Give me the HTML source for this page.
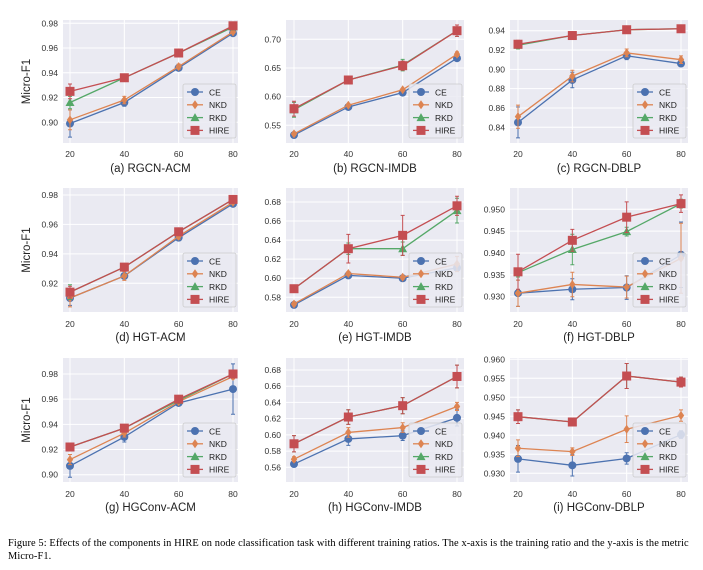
<!DOCTYPE html>
<html><head><meta charset="utf-8">
<style>
html,body{margin:0;padding:0;background:#fff;}
body{width:703px;height:570px;overflow:hidden;position:relative;}
svg{position:absolute;left:0;top:0;}
.cap{position:absolute;left:8px;top:537px;width:694px;overflow:hidden;white-space:nowrap;font-family:"Liberation Serif",serif;font-size:10.4px;letter-spacing:0.1px;line-height:13px;color:#000;}
</style></head><body>
<svg id="chart" width="703" height="535" font-family="Liberation Sans, DejaVu Sans, sans-serif"></svg>
<div class="cap">Figure 5: Effects of the components in HIRE on node classification task with different training ratios. The x-axis is the training ratio and the y-axis is the metric<br>Micro-F1.</div>
<script>
const xCats = [20, 40, 60, 80];
const seriesNames = ["CE", "NKD", "RKD", "HIRE"];
const titles = ["(a) RGCN-ACM","(b) RGCN-IMDB","(c) RGCN-DBLP","(d) HGT-ACM","(e) HGT-IMDB","(f) HGT-DBLP","(g) HGConv-ACM","(h) HGConv-IMDB","(i) HGConv-DBLP"];
const yTicks = [
 [0.90,0.92,0.94,0.96,0.98],[0.55,0.60,0.65,0.70],[0.84,0.86,0.88,0.90,0.92,0.94],
 [0.92,0.94,0.96,0.98],[0.58,0.60,0.62,0.64,0.66,0.68],[0.930,0.935,0.940,0.945,0.950],
 [0.90,0.92,0.94,0.96,0.98],[0.56,0.58,0.60,0.62,0.64,0.66,0.68],[0.930,0.935,0.940,0.945,0.950,0.955,0.960]];
const ceVals = [
 [0.899,0.916,0.944,0.972],[0.533,0.582,0.607,0.667],[0.845,0.889,0.914,0.906],
 [0.910,0.925,0.951,0.974],[0.572,0.603,0.600,0.611],[0.9308,0.9317,0.9321,0.9396],
 [0.907,0.930,0.957,0.968],[0.564,0.595,0.599,0.621],[0.9338,0.9321,0.9339,0.9402]];
const nkdVals = [
 [0.902,0.918,0.945,0.973],[0.535,0.585,0.612,0.674],[0.851,0.893,0.917,0.910],
 [0.910,0.925,0.952,0.975],[0.573,0.605,0.601,0.615],[0.9308,0.9328,0.9322,0.9388],
 [0.912,0.933,0.958,0.978],[0.570,0.603,0.609,0.635],[0.9366,0.9357,0.9416,0.9452]];
const rkdVals = [
 [0.916,0.936,0.956,0.977],[0.577,0.629,0.655,0.715],[0.925,0.935,0.941,0.942],
 [0.914,0.931,0.955,0.977],[0.589,0.631,0.631,0.671],[0.9355,0.9408,0.9449,0.9513],
 [0.922,0.937,0.959,0.980],[0.589,0.622,0.636,0.672],[0.9449,0.9435,0.9556,0.9540]];
const hireVals = [
 [0.925,0.936,0.956,0.978],[0.579,0.629,0.654,0.715],[0.926,0.935,0.941,0.942],
 [0.914,0.931,0.955,0.977],[0.589,0.631,0.645,0.676],[0.9357,0.9429,0.9482,0.9513],
 [0.922,0.937,0.960,0.980],[0.589,0.622,0.636,0.672],[0.9449,0.9435,0.9556,0.9540]];
const ceErr = [
 [0.011,0.003,0.002,0.001],[0.003,0.002,0.002,0.002],[0.016,0.008,0.004,0.002],
 [0.005,0.002,0.002,0.001],[0.002,0.002,0.002,0.003],[0.003,0.0024,0.0027,0.0075],
 [0.009,0.004,0.001,0.020],[0.003,0.008,0.006,0.010],[0.0035,0.0028,0.0015,0.001]];
const nkdErr = [
 [0.008,0.003,0.002,0.001],[0.003,0.002,0.002,0.004],[0.012,0.006,0.004,0.004],
 [0.006,0.003,0.002,0.001],[0.002,0.002,0.002,0.008],[0.003,0.0028,0.0025,0.008],
 [0.004,0.003,0.001,0.002],[0.003,0.006,0.006,0.005],[0.0022,0.001,0.0035,0.0015]];
const rkdErr = [
 [0.005,0.001,0.002,0.001],[0.013,0.003,0.010,0.010],[0.004,0.001,0.001,0.002],
 [0.005,0.002,0.002,0.001],[0.003,0.006,0.007,0.013],[0.001,0.0035,0.001,0.001],
 [0.003,0.002,0.001,0.002],[0.010,0.009,0.010,0.014],[0.0018,0.001,0.0033,0.0013]];
const hireErr = [
 [0.006,0.001,0.002,0.001],[0.013,0.003,0.008,0.010],[0.004,0.001,0.001,0.002],
 [0.004,0.002,0.002,0.001],[0.003,0.015,0.021,0.010],[0.004,0.0025,0.0035,0.002],
 [0.003,0.002,0.001,0.002],[0.010,0.009,0.010,0.014],[0.0018,0.001,0.0033,0.0013]];

const colors = ["#4c72b0","#dd8452","#55a868","#c44e52"];
const cols = [{L:63,R:238,x20:70,x80:233},{L:286,R:464,x20:294,x80:457},{L:510,R:688,x20:518,x80:681}];
const rows = [{T:20,B:143,xl:157,tl:168},{T:188,B:312,xl:327,tl:337},{T:358,B:482,xl:497,tl:507}];
const yRef = [[0.98,23.3,0.90,122.3],[0.70,39.3,0.55,125.3],[0.94,30.7,0.84,127.3],
 [0.98,195,0.92,283.3],[0.68,202,0.58,297.3],[0.950,209.3,0.930,296.7],
 [0.98,374,0.90,474.7],[0.68,370,0.56,467.3],[0.960,359.3,0.930,473.3]];
const decimals = [2,2,2,2,2,3,2,2,3];

const NS="http://www.w3.org/2000/svg";
const svg=document.getElementById('chart');
function mk(tag,attrs,parent){const e=document.createElementNS(NS,tag);for(const k in attrs)e.setAttribute(k,attrs[k]);(parent||svg).appendChild(e);return e;}
function marker(g,k,x,y,c){
  let m;
  if(k===0) m=mk('circle',{cx:x,cy:y,r:4,fill:c},g);
  else if(k===1) m=mk('polygon',{points:`${x},${y-4.5} ${x+3.2},${y} ${x},${y+4.5} ${x-3.2},${y}`,fill:c},g);
  else if(k===2) m=mk('polygon',{points:`${x},${y-4.5} ${x+4.5},${y+3.5} ${x-4.5},${y+3.5}`,fill:c},g);
  else m=mk('rect',{x:x-4.5,y:y-4.5,width:9,height:9,fill:c},g);
  return m;
}
const allVals=[ceVals,nkdVals,rkdVals,hireVals], allErr=[ceErr,nkdErr,rkdErr,hireErr];
for(let p=0;p<9;p++){
  const c=cols[p%3], r=rows[Math.floor(p/3)], yr=yRef[p];
  const ys=v=>yr[1]+(v-yr[0])*(yr[3]-yr[1])/(yr[2]-yr[0]);
  const xs=v=>c.x20+(v-20)*(c.x80-c.x20)/60;
  const g=mk('g',{});
  
  
  const bg=mk('rect',{x:c.L,y:r.T,width:c.R-c.L,height:r.B-r.T,fill:'#eaeaf2'},g);
  
  
  yTicks[p].forEach(t=>{
    const y=ys(t); if(y<r.T||y>r.B) return;
    const gl=mk('line',{x1:c.L,x2:c.R,y1:y,y2:y,stroke:'#fff','stroke-width':1},g);
    
    
    const tl=mk('text',{x:c.L-5,y:y+3,'text-anchor':'end','font-size':8.5,fill:'#333'},g);
    tl.textContent=t.toFixed(decimals[p]);
    
    
  });
  xCats.forEach(v=>{
    const x=xs(v);
    const gl=mk('line',{x1:x,x2:x,y1:r.T,y2:r.B,stroke:'#fff','stroke-width':1},g);
    
    
    const tl=mk('text',{x:x,y:r.xl,'text-anchor':'middle','font-size':8.5,fill:'#333'},g);
    tl.textContent=v;
    
    
  });
  const tt=mk('text',{x:(c.L+c.R)/2,y:r.tl+4,'text-anchor':'middle','font-size':11.5,fill:'#222'},g);
  tt.textContent=titles[p];
  
  
  if(p%3===0){
    const yc=(r.T+r.B)/2;
    const yl=mk('text',{x:0,y:0,transform:`translate(30,${yc}) rotate(-90)`,'text-anchor':'middle','font-size':11.5,fill:'#222'},g);
    yl.textContent='Micro-F1';
    
    
  }
  for(let k=0;k<4;k++){
    const vals=allVals[k][p], errs=allErr[k][p], col=colors[k];
    const sg=mk('g',{},g);
    
    
    const pts=vals.map((v,i)=>xs(xCats[i])+','+ys(v)).join(' ');
    const pl=mk('polyline',{points:pts,fill:'none',stroke:col,'stroke-width':1.3},sg);
    
    
    vals.forEach((v,i)=>{
      const x=xs(xCats[i]), y1=ys(v-errs[i]), y2=ys(v+errs[i]);
      const eb=mk('path',{d:`M${x},${y1}V${y2}M${x-2},${y1}H${x+2}M${x-2},${y2}H${x+2}`,stroke:col,'stroke-width':1,fill:'none'},sg);
      
      
      const m=marker(sg,k,x,ys(v),col);
      
      
    });
  }
  const lw=53, lh=54, lx=c.R-lw-2, ly=r.B-lh-5;
  const lg=mk('g',{},g);
  
  
  mk('rect',{x:lx,y:ly,width:lw,height:lh,fill:'#eaeaf2','fill-opacity':0.85,stroke:'#ccc','stroke-width':0.8,rx:2},lg);
  for(let k=0;k<4;k++){
    const yy=ly+8+k*12.8;
    const le=mk('g',{},lg);
    
    
    mk('line',{x1:lx+4,x2:lx+20,y1:yy,y2:yy,stroke:colors[k],'stroke-width':1.3},le);
    marker(le,k,lx+12,yy,colors[k]);
    const t=mk('text',{x:lx+26,y:yy+3.3,'font-size':8.5,fill:'#222'},le);
    t.textContent=seriesNames[k];
  }
}
</script>
</body></html>
